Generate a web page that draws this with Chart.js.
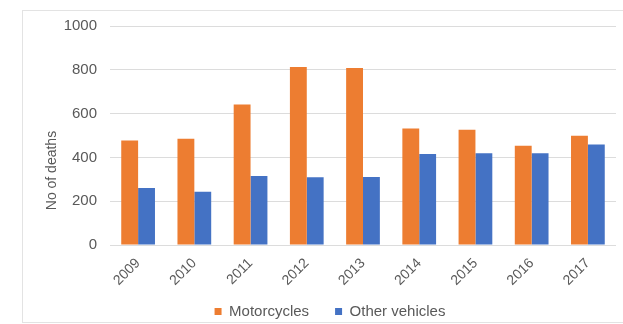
<!DOCTYPE html>
<html>
<head>
<meta charset="utf-8">
<script src="https://cdn.jsdelivr.net/npm/chart.js@4/dist/chart.umd.min.js"></script>
<style>
  html, body { margin: 0; padding: 0; background: #fff; }
  #wrap { position: relative; width: 623px; height: 324px; overflow: hidden; }
  #frame { position: absolute; left: 22px; top: 10px; width: 620px; height: 311px; border: 1px solid #e3e3e3; }
  #chart { position: absolute; left: 0; top: 0; }
</style>
</head>
<body>
<div id="wrap">
  <div id="frame"></div>
  <canvas id="chart" width="623" height="324"></canvas>
</div>
<script>
// Road deaths per year
const years = ['2009', '2010', '2011', '2012', '2013', '2014', '2015', '2016', '2017'];
const motorcycles = [477, 485, 642, 813, 808, 532, 526, 453, 499];
const otherVehicles = [260, 243, 315, 309, 311, 416, 419, 419, 459];
const yTicks = [0, 200, 400, 600, 800, 1000];
const yTitle = 'No of deaths';

const textColor = '#595959';
const fontFamily = "'Liberation Sans', Arial, sans-serif";

// axis title sits a bit below the middle of the axis, so draw it by hand
const yTitlePlugin = {
  id: 'yTitle',
  afterDraw(chart) {
    const c = chart.ctx;
    const y = chart.scales.y;
    c.save();
    c.translate(52, y.getPixelForValue(340));
    c.rotate(-Math.PI / 2);
    c.fillStyle = textColor;
    c.font = '14px ' + fontFamily;
    c.textAlign = 'center';
    c.textBaseline = 'middle';
    c.fillText(yTitle, 0, 0);
    c.restore();
  }
};

// the year labels overlap the legend band a little; don't clip them to the axis box
const unclipYears = {
  id: 'unclipYears',
  afterLayout(chart) {
    chart.scales.x.bottom = chart.height;
  }
};

const ctx = document.getElementById('chart').getContext('2d');
new Chart(ctx, {
  type: 'bar',
  data: {
    labels: years,
    datasets: [
      {
        label: 'Motorcycles',
        data: motorcycles,
        backgroundColor: '#ED7D31'
      },
      {
        label: 'Other vehicles',
        data: otherVehicles,
        backgroundColor: '#4472C4'
      }
    ]
  },
  options: {
    responsive: false,
    animation: false,
    datasets: {
      bar: { categoryPercentage: 0.6, barPercentage: 1 }
    },
    layout: {
      padding: { left: 44, right: 7, top: 26, bottom: -5 }
    },
    plugins: {
      tooltip: { enabled: false },
      legend: {
        position: 'bottom',
        labels: {
          color: textColor,
          font: { family: fontFamily, size: 15 },
          boxWidth: 7,
          boxHeight: 7,
          padding: 26
        }
      }
    },
    scales: {
      x: {
        afterFit: scale => { scale.height = 33; },
        grid: { display: false },
        border: { display: false },
        ticks: {
          color: textColor,
          font: { family: fontFamily, size: 14 },
          minRotation: 45,
          maxRotation: 45,
          padding: 2
        }
      },
      y: {
        min: 0,
        max: 1000,
        afterFit: scale => { scale.width = 66; },
        afterBuildTicks: scale => { scale.ticks = yTicks.map(v => ({ value: v })); },
        grid: { color: '#dcdcdc', drawTicks: false },
        border: { display: false },
        ticks: {
          color: textColor,
          font: { family: fontFamily, size: 15 },
          padding: 13,
          callback: v => String(v)
        }
      }
    }
  },
  plugins: [yTitlePlugin, unclipYears]
});
</script>
</body>
</html>
